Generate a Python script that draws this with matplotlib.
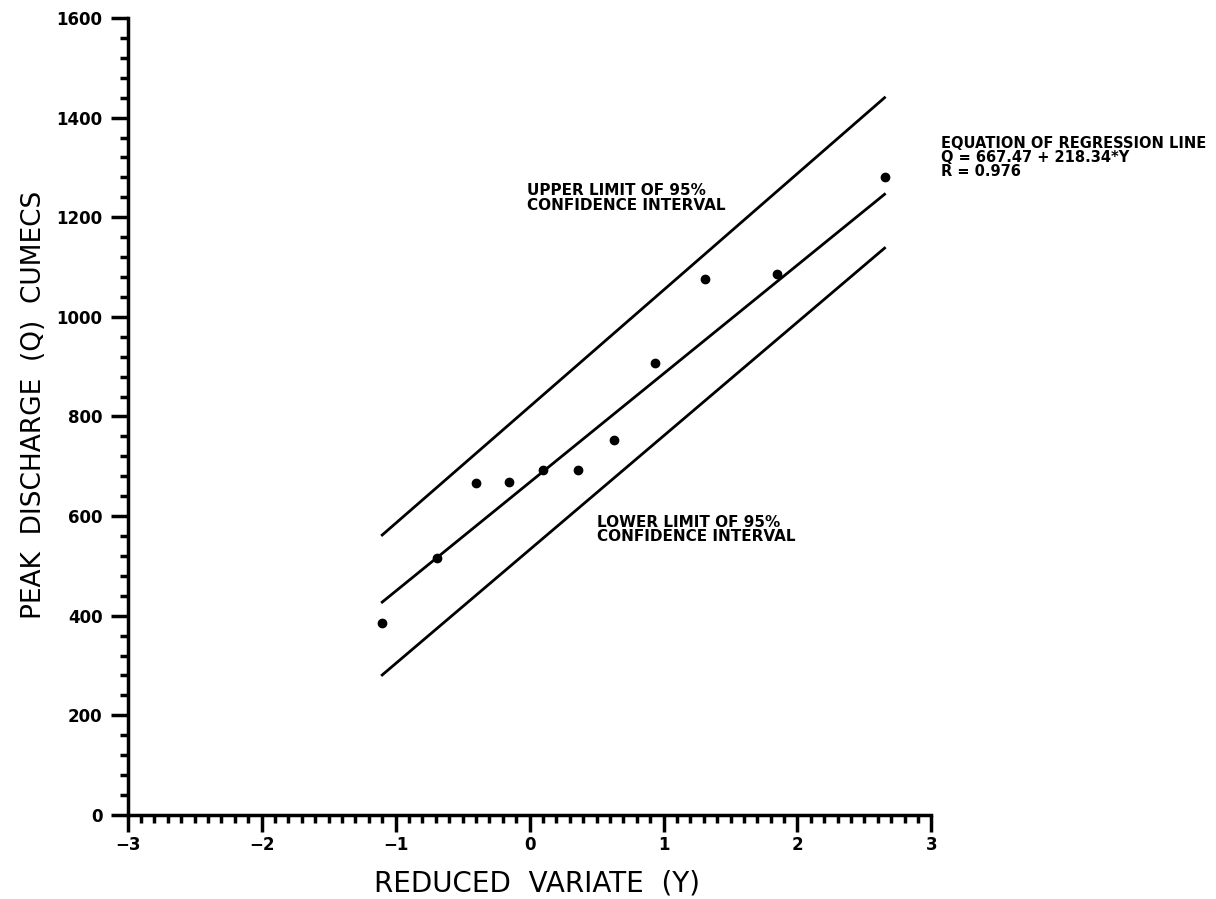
import matplotlib
matplotlib.use("Agg")
import matplotlib.pyplot as plt
import numpy as np
from matplotlib.ticker import MultipleLocator

# observed annual peaks: reduced variate Y vs discharge Q (cumecs)
reduced_variate = [-1.10, -0.69, -0.40, -0.15, 0.10, 0.36, 0.63, 0.94, 1.31, 1.85, 2.65]
peak_q = [385, 516, 666, 668, 692, 692, 752, 907, 1075, 1087, 1280]

# regression line Q = a + b*Y
reg_a = 667.47
reg_b = 218.34
line_y = [-1.10, 2.65]
upper_q = [562, 1440]
lower_q = [281, 1138]

font = {"family": "DejaVu Sans", "weight": "bold"}

fig = plt.figure(figsize=(12.16, 8.99), dpi=100)
ax = fig.add_axes([0.105, 0.0935, 0.661, 0.8865])

yy = np.array(line_y)
ax.plot(yy, reg_a + reg_b * yy, color="black", lw=2)
ax.plot(line_y, upper_q, color="black", lw=2)
ax.plot(line_y, lower_q, color="black", lw=2)
ax.plot(reduced_variate, peak_q, "o", color="black", ms=6)

ax.set_xlim(-3, 3)
ax.set_ylim(0, 1600)
ax.spines["top"].set_visible(False)
ax.spines["right"].set_visible(False)
ax.spines["left"].set_linewidth(2.5)
ax.spines["bottom"].set_linewidth(2.5)

ax.xaxis.set_major_locator(MultipleLocator(1))
ax.xaxis.set_minor_locator(MultipleLocator(0.1))
ax.yaxis.set_major_locator(MultipleLocator(200))
ax.yaxis.set_minor_locator(MultipleLocator(40))
ax.tick_params(which="major", length=12, width=2.5, labelsize=12)
ax.tick_params(axis="y", which="major", pad=6)
ax.tick_params(which="minor", length=6, width=2.5)
for lab in ax.get_xticklabels() + ax.get_yticklabels():
    lab.set_fontweight("bold")

ax.set_xlabel("REDUCED  VARIATE  (Y)", fontsize=20)
ax.set_ylabel("PEAK  DISCHARGE  (Q)  CUMECS", fontsize=19)
ax.xaxis.set_label_coords(0.509, -0.069)
ax.yaxis.set_label_coords(-0.10, 0.515)

ax.text(-0.02, 1268, "UPPER LIMIT OF 95%\nCONFIDENCE INTERVAL", fontsize=11,
        va="top", linespacing=0.95, **font)
ax.text(0.50, 602, "LOWER LIMIT OF 95%\nCONFIDENCE INTERVAL", fontsize=11,
        va="top", linespacing=0.95, **font)
ax.text(3.07, 1364, "EQUATION OF REGRESSION LINE\nQ = 667.47 + 218.34*Y\nR = 0.976",
        fontsize=10.5, va="top", linespacing=0.95, clip_on=False, **font)

fig.savefig("out.png", dpi=100)
